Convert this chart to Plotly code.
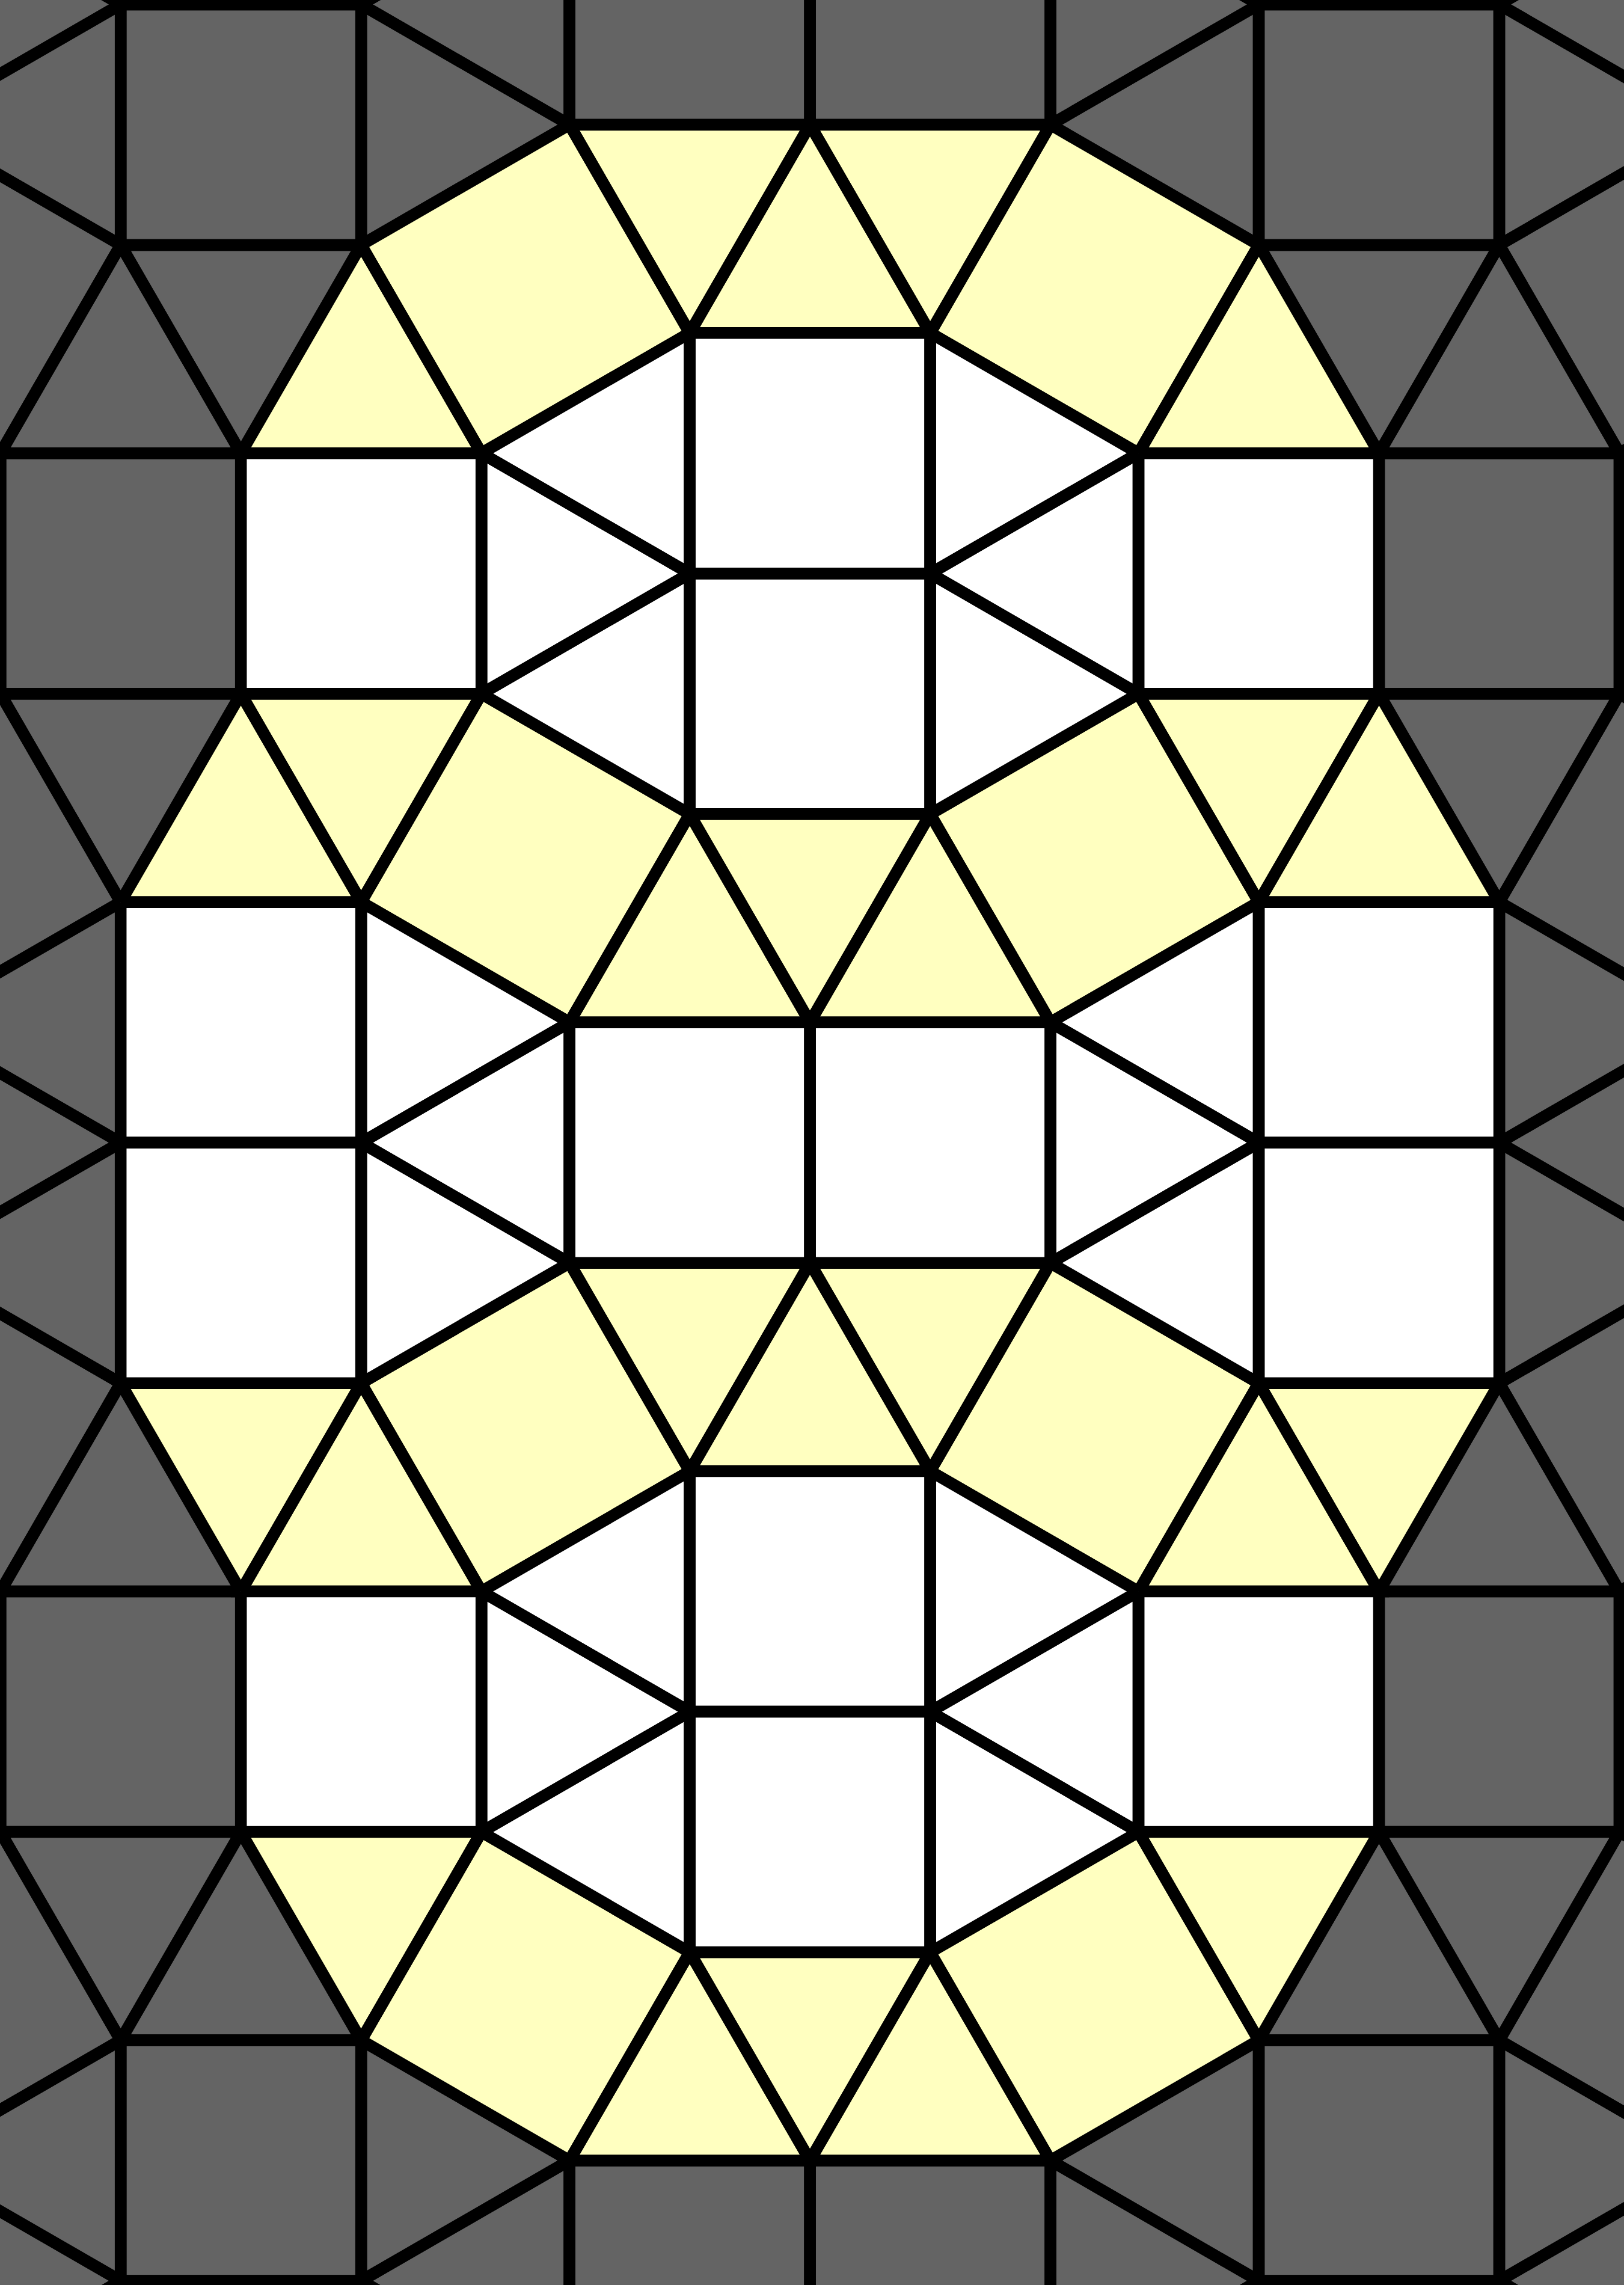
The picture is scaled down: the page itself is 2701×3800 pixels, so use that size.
"""Tiling of squares and triangles: dominoes on a checkerboard lattice, patch coloured in the middle."""
import math
import plotly.graph_objects as go

# ──────────────────────────────────────────────────────────────────────
# Data
# ──────────────────────────────────────────────────────────────────────
# lattice nodes carrying a domino (2 squares); horizontal where m+n even, vertical where odd
LATTICE_M = [-2, -1, 0, 1, 2, 3, 4]
LATTICE_N = [-2, -1, 0, 1, 2, 3, 4, 5]

# outline of the coloured patch, point = lattice node (m, n) + offset (dx, dy) in side units
PATCH_M = [0, 0, 1, 1, 2, 2, 2, 2, 2, 2, 2, 2, 1, 1, 0, 0, 0, 0, 0, 0]
PATCH_N = [0, -1, -1, -1, -1, 0, 0, 1, 1, 2, 2, 3, 3, 3, 3, 2, 2, 1, 1, 0]
PATCH_DX = [0, 0.5, -1, 1, -0.5, 0, 0, 0.5, 0.5, 0, 0, -0.5, 1, -1, 0.5, 0, 0, -0.5, -0.5, 0]
PATCH_DY = [-0.5, 1, 0.5, 0.5, 1, -0.5, 0.5, -1, 1, -0.5, 0.5, -1, -0.5, -0.5, -1, 0.5, -0.5, 1, -1, 0.5]

# fill by tile kind inside the patch, grey outside
INSIDE_COLOR = {"square": "#ffffff", "tri_h": "#ffffff", "tri_v": "#ffffc0", "rhomb": "#ffffc0"}
OUTSIDE_COLOR = "#646464"

# view: pixels per side, pixel position of node (0, 0)
W, H = 2701, 3800
SIDE_PX = 400.0
ORIGIN_PX = (400.7, 953.8)
LINE_W = 19.5

D = 1.5 + math.sqrt(3) / 2  # lattice spacing in side units


# ──────────────────────────────────────────────────────────────────────
# Geometry
# ──────────────────────────────────────────────────────────────────────
def gap_triangles(s, l, c):
    """Triangles between a short edge (at s, c±.5) and a long edge (at l, c-1..c+1)."""
    return [
        [(s, c - .5), (s, c + .5), (l, c)],
        [(s, c - .5), (l, c - 1), (l, c)],
        [(s, c + .5), (l, c), (l, c + 1)],
    ]


def swap(poly):
    return [(v, u) for u, v in poly]


tiles = []
for m in LATTICE_M:
    for n in LATTICE_N:
        X, Y = m * D, n * D
        horiz = (m + n) % 2 == 0
        if horiz:
            tiles.append(("square", [(X - 1, Y - .5), (X, Y - .5), (X, Y + .5), (X - 1, Y + .5)]))
            tiles.append(("square", [(X, Y - .5), (X + 1, Y - .5), (X + 1, Y + .5), (X, Y + .5)]))
            # right: own short edge vs neighbour's long edge
            for t in gap_triangles(X + 1, X + D - .5, Y):
                tiles.append(("tri_h", t))
            # below: own long edge vs neighbour's short edge
            for t in gap_triangles(Y + D - 1, Y + .5, X):
                tiles.append(("tri_v", swap(t)))
            tiles.append(("rhomb", [(X + 1, Y + .5), (X + D - .5, Y + 1),
                                    (X + D - 1, Y + D - .5), (X + .5, Y + D - 1)]))
        else:
            tiles.append(("square", [(X - .5, Y - 1), (X + .5, Y - 1), (X + .5, Y), (X - .5, Y)]))
            tiles.append(("square", [(X - .5, Y), (X + .5, Y), (X + .5, Y + 1), (X - .5, Y + 1)]))
            for t in gap_triangles(X + D - 1, X + .5, Y):
                tiles.append(("tri_h", t))
            for t in gap_triangles(Y + 1, Y + D - .5, X):
                tiles.append(("tri_v", swap(t)))
            tiles.append(("rhomb", [(X + .5, Y + 1), (X + D - 1, Y + .5),
                                    (X + D - .5, Y + D - 1), (X + 1, Y + D - .5)]))

patch = [(m * D + dx, n * D + dy) for m, n, dx, dy in zip(PATCH_M, PATCH_N, PATCH_DX, PATCH_DY)]


def inside(pt, poly):
    x, y = pt
    hit = False
    j = len(poly) - 1
    for i in range(len(poly)):
        xi, yi = poly[i]
        xj, yj = poly[j]
        if (yi > y) != (yj > y) and x < (xj - xi) * (y - yi) / (yj - yi) + xi:
            hit = not hit
        j = i
    return hit


groups = {}
for kind, poly in tiles:
    cx = sum(p[0] for p in poly) / len(poly)
    cy = sum(p[1] for p in poly) / len(poly)
    color = INSIDE_COLOR[kind] if inside((cx, cy), patch) else OUTSIDE_COLOR
    xs, ys = groups.setdefault(color, ([], []))
    for px, py in poly + [poly[0]]:
        xs.append(px)
        ys.append(py)
    xs.append(None)
    ys.append(None)

# ──────────────────────────────────────────────────────────────────────
# Figure
# ──────────────────────────────────────────────────────────────────────
fig = go.Figure()
for color in [OUTSIDE_COLOR, "#ffffc0", "#ffffff"]:
    if color not in groups:
        continue
    xs, ys = groups[color]
    fig.add_trace(go.Scatter(
        x=xs, y=ys, mode="lines", fill="toself", fillcolor=color,
        line=dict(color="black", width=LINE_W), hoverinfo="skip",
    ))

x0 = -ORIGIN_PX[0] / SIDE_PX
x1 = (W - ORIGIN_PX[0]) / SIDE_PX
y0 = -ORIGIN_PX[1] / SIDE_PX
y1 = (H - ORIGIN_PX[1]) / SIDE_PX
fig.update_layout(
    width=W, height=H, margin=dict(l=0, r=0, t=0, b=0),
    plot_bgcolor=OUTSIDE_COLOR, paper_bgcolor=OUTSIDE_COLOR,
    showlegend=False,
)
fig.update_xaxes(range=[x0, x1], visible=False, showgrid=False, zeroline=False)
fig.update_yaxes(range=[y1, y0], visible=False, showgrid=False, zeroline=False)

fig.write_html("out.html", config={"displayModeBar": False},
               post_script="document.body.style.margin='0';")
